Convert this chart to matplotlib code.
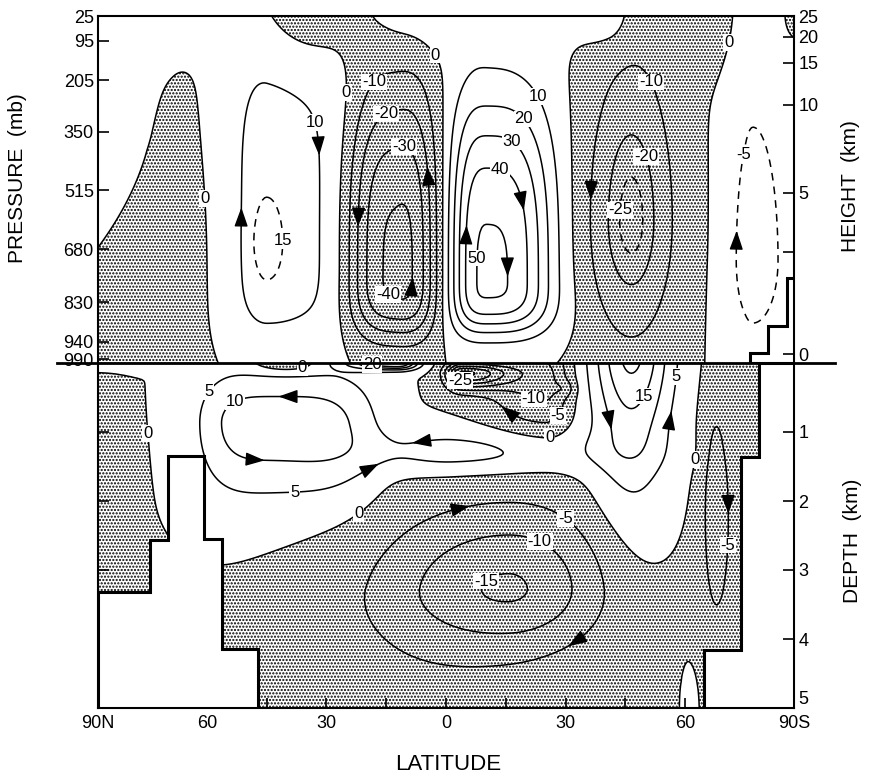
import numpy as np
import matplotlib.pyplot as plt
from matplotlib.lines import Line2D

plt.rcParams['font.family'] = ['Liberation Sans', 'DejaVu Sans']
plt.rcParams['hatch.color'] = 'black'
plt.rcParams['hatch.linewidth'] = 1.05

# ---- axes ticks ----
lat_ticks = [90, 75, 60, 45, 30, 15, 0, -15, -30, -45, -60, -75, -90]
lat_labels = ['90N', '', '60', '', '30', '', '0', '', '30', '', '60', '', '90S']
p_ticks = [25, 95, 205, 350, 515, 680, 830, 940, 990]
height_ticks_p = [25, 84, 157, 275, 522, 688, 975]
height_labels = ['25', '20', '15', '10', '5', '', '0']
depth_ticks = [1, 2, 3, 4, 5]

# ---- atmosphere cells (lat, pressure mb, strength, half widths) ----
atm_lat = [12.3, -10.6, 45.0, -46.5, -77.4, 68.0, 90.0, -90.0, 34.0, 0.0, 45.0, -41.0, 70.0, -64.0]
atm_p = [750, 770, 660, 600, 711, 750, 350, 25, 25, 25, 660, 25, 25, 25]
atm_amp = [-45, 51.5, 14, -27, 7, -5, 6, -3, -9, 7, 5, 8, 3, -5]
atm_wn = [12.2, 8.9, 11.0, 10.6, 8.0, 18.0, 5.0, 3.0, 13.0, 22.0, 3.5, 7.0, 15.0, 10.0]
atm_ws = [9.3, 15.5, 26.0, 10.3, 13.3, 9.0, 18.0, 3.0, 14.0, 25.0, 3.5, 5.0, 12.0, 7.0]
atm_wup = [520, 500, 630, 440, 645, 550, 500, 60, 60, 60, 100, 60, 60, 60]
atm_wdn = [182, 147, 300, 328, 305, 400, 250, 60, 150, 100, 90, 90, 120, 150]
atm_nx = [3, 3, 2, 2, 2, 2, 2, 2, 2, 2, 2, 2, 2, 2]
atm_ny = [3, 3, 4, 2, 2, 2, 2, 2, 2, 2, 2, 2, 2, 2]

# ---- ocean cells (lat, depth km, strength, half widths) ----
oc_lat = [42, -2, 12, -4, -25, -30, -46.5, -67.5, -72, -16, 10, 88, 40, -61, 80]
oc_d = [0.87, 1.3, 0, 0.15, 0.35, 0.37, 0, 2.13, 2.5, 3.25, 4.8, 2.0, 0, 5, 0]
oc_amp = [13, 7.5, 26, -30, -11, -4, 21, -7, -3, -15.0, -3, -3, -7, 3, 1]
oc_wn = [20, 22, 12, 4, 14, 2.5, 9.7, 3, 8, 32, 40, 10, 9, 1.5, 15]
oc_ws = [24, 36, 5, 12, 6, 2.5, 9.7, 3, 8, 24, 40, 6, 9, 2, 15]
oc_wup = [0.75, 0.35, 1, 0.15, 1, 0.12, 1, 1.45, 3, 1.17, 1.4, 1.0, 1, 0.5, 1]
oc_wdn = [1.05, 0.3, 0.1, 0.22, 0.65, 0.12, 1.52, 1.45, 3, 0.9, 2, 1.5, 0.14, 1, 0.1]
oc_nx = [4, 2, 2, 2, 2, 2, 2, 2, 2, 2, 2, 2, 2, 2, 2]
oc_ny = [2, 2, 2, 2, 2, 2, 1.3, 2, 2, 2, 2, 2, 2, 2, 2]

# ---- topography ----
atm_land_lat = [-76.5, -76.5, -82, -82, -88, -88, -90, -90]
atm_land_p = [1000, 972, 972, 897, 897, 762, 762, 1000]
oc_landN_lat = [90, 90, 74.2, 74.2, 69.7, 69.7, 60.7, 60.7, 56.2, 56.2, 47.1, 47.1]
oc_landN_d = [5, 3.32, 3.32, 2.57, 2.57, 1.35, 1.35, 2.55, 2.55, 4.14, 4.14, 5]
oc_landS_lat = [-64.8, -64.8, -74.1, -74.1, -79.3, -79.3, -90, -90]
oc_landS_d = [5, 4.16, 4.16, 1.36, 1.36, 0, 0, 5]

DASH = (0, (5, 4))


def cell_field(lat, lev, c_lat, c_lev, amp, wn, ws, wup, wdn, nx, ny):
    z = np.zeros_like(lat)
    for i in range(len(amp)):
        u = (lat - c_lat[i]) / np.where(lat > c_lat[i], wn[i], ws[i])
        v = (lev - c_lev[i]) / np.where(lev < c_lev[i], wup[i], wdn[i])
        z += amp[i] * np.exp(-(np.abs(u) ** nx[i] + np.abs(v) ** ny[i]))
    return z


def fwd(x):
    return np.interp(x, [-90, -75, 75, 90], [-87.3, -75, 75, 87.3])


def inv(x):
    return np.interp(x, [-87.3, -75, 75, 87.3], [-90, -75, 75, 90])


def draw_levels(ax, X, Y, Z, levels, ls='solid'):
    out = {}
    for lev in levels:
        if Z.min() < lev < Z.max():
            out[lev] = ax.contour(X, Y, Z, levels=[lev], colors='k',
                                  linewidths=1.1, linestyles=[ls])
    return out


def nearest_on(ax, sets, level, x, y):
    if level not in sets:
        return None
    segs = sets[level].get_paths()[0].to_polygons(closed_only=False)
    target = ax.transData.transform((x, y))
    best = None
    for s in segs:
        if len(s) < 3:
            continue
        d = ax.transData.transform(s)
        dist = np.hypot(*(d - target).T)
        k = np.argmin(dist)
        if best is None or dist[k] < best[0]:
            best = (dist[k], d, k)
    return best


def flow_arrow(ax, sets, level, x, y, direction):
    best = nearest_on(ax, sets, level, x, y)
    if best is None:
        return
    dx, dy = {'up': (0, 1), 'down': (0, -1), 'left': (-1, 0), 'right': (1, 0)}[direction]
    _, pts, k = best
    k0, k1 = max(k - 2, 0), min(k + 2, len(pts) - 1)
    t = pts[k1] - pts[k0]
    t = t / np.hypot(*t)
    if t[0] * dx + t[1] * dy < 0:
        t = -t
    c = pts[k]
    tip = ax.transData.inverted().transform(c + 6 * t)
    tail = ax.transData.inverted().transform(c - 6 * t)
    ax.annotate('', xy=tip, xytext=tail,
                arrowprops=dict(arrowstyle='-|>,head_length=0.9,head_width=0.32',
                                color='k', lw=1, shrinkA=0, shrinkB=0,
                                mutation_scale=13), zorder=6)


def put_labels(ax, sets, items, text=None):
    for lev, x, y in items:
        best = nearest_on(ax, sets, lev, x, y)
        if best is None:
            continue
        _, pts, k = best
        px, py = ax.transData.inverted().transform(pts[k])
        ax.text(px, py, text if text else f'{lev:.0f}', fontsize=12, ha='center', va='center',
                zorder=7, bbox=dict(facecolor='white', edgecolor='none', pad=0.6))


fig = plt.figure(figsize=(8.69, 7.75), dpi=100)
L, W = 98 / 869, (794 - 98) / 869
ax_a = fig.add_axes([L, 1 - 363 / 775, W, (363 - 16) / 775])
ax_o = fig.add_axes([L, 1 - 708 / 775, W, (708 - 363) / 775])
for ax in (ax_a, ax_o):
    ax.set_xscale('function', functions=(fwd, inv))
    ax.set_xlim(90, -90)
    for s in ax.spines.values():
        s.set_linewidth(1.5)
ax_a.set_ylim(1000, 25)
ax_o.set_ylim(5, 0)

# ---- atmosphere ----
la = np.linspace(-90, 90, 361)
pa = np.linspace(25, 1000, 196)
LA, PA = np.meshgrid(la, pa)
Za = cell_field(LA, PA, atm_lat, atm_p, atm_amp, atm_wn, atm_ws, atm_wup, atm_wdn, atm_nx, atm_ny)
ax_a.contourf(LA, PA, Za, levels=[Za.min() - 1, 0], colors='none', hatches=['.....'])
ca = draw_levels(ax_a, LA, PA, Za, [-40, -30, -20, -10, 0, 10, 20, 30, 40, 50])
ca15 = draw_levels(ax_a, LA, PA, np.ma.masked_where(LA < 25, Za), [15], DASH)
ca25 = draw_levels(ax_a, LA, PA, np.ma.masked_where(LA > -30, Za), [-25], DASH)
ca5 = draw_levels(ax_a, LA, PA, np.ma.masked_where(LA > -64, Za), [5], DASH)

flow_arrow(ax_a, ca, 10, 31.4, 402, 'down')
flow_arrow(ax_a, ca, 10, 52.8, 579, 'up')
flow_arrow(ax_a, ca, -20, 21.1, 598, 'down')
flow_arrow(ax_a, ca, -20, 3.5, 466, 'up')
flow_arrow(ax_a, ca, -40, 10.0, 775, 'up')
flow_arrow(ax_a, ca, 40, -22.1, 551, 'down')
flow_arrow(ax_a, ca, 40, -4.0, 627, 'up')
flow_arrow(ax_a, ca, 50, -12.8, 739, 'down')
flow_arrow(ax_a, ca, -10, -36.7, 523, 'down')
flow_arrow(ax_a, ca5, 5, -70.6, 646, 'up')

put_labels(ax_a, ca, [(0, 62.8, 444), (10, 36.2, 337), (0, 27.4, 261), (-10, 21.1, 185),
                      (-20, 16.8, 270), (-30, 9.3, 354), (-40, 16.1, 823), (0, 1.8, 129),
                      (10, -30.2, 205), (20, -22.6, 284), (30, -18.3, 354), (40, -14.1, 424),
                      (50, -8.8, 705), (-10, -54.3, 194), (-20, -50.5, 421), (0, -70.4, 98)])
put_labels(ax_a, ca15, [(15, 40.7, 655)])
put_labels(ax_a, ca25, [(-25, -45.5, 570)])
put_labels(ax_a, ca5, [(5, -74.7, 416)], text='-5')

ax_a.fill(atm_land_lat, atm_land_p, facecolor='white', edgecolor='k', lw=2.2, zorder=5)

# ---- ocean ----
lo = np.linspace(-90, 90, 361)
do = np.linspace(0, 5, 251)
LO, DO = np.meshgrid(lo, do)
Zo = cell_field(LO, DO, oc_lat, oc_d, oc_amp, oc_wn, oc_ws, oc_wup, oc_wdn, oc_nx, oc_ny)
ax_o.contourf(LO, DO, Zo, levels=[Zo.min() - 1, 0], colors='none', hatches=['.....'])
co = draw_levels(ax_o, LO, DO, Zo, [-30, -25, -20, -15, -10, -5, 0, 5, 10, 15, 20])

flow_arrow(ax_o, co, 10, 40.7, 0.57, 'left')
flow_arrow(ax_o, co, 10, 47.0, 1.30, 'right')
flow_arrow(ax_o, co, 5, 8.0, 0.80, 'left')
flow_arrow(ax_o, co, 5, 17.3, 1.60, 'right')
flow_arrow(ax_o, co, -5, -16.6, 0.58, 'left')
flow_arrow(ax_o, co, 10, -43.5, 0.86, 'down')
flow_arrow(ax_o, co, 5, -58.0, 0.80, 'up')
flow_arrow(ax_o, co, -5, -69.0, 2.10, 'down')
flow_arrow(ax_o, co, -5, -5.3, 2.28, 'right')
flow_arrow(ax_o, co, -5, -26.6, 3.58, 'left')

put_labels(ax_o, co, [(0, 82.3, 1.33), (5, 63.3, 0.25), (10, 55.0, 0.39), (0, 36.4, 0.14),
                      (20, 22.4, 0.35), (5, 37.7, 1.96), (0, 22.4, 2.30), (-25, -2.8, 0.35),
                      (-10, -22.9, 0.36), (-5, -30.9, 0.87), (0, -26.4, 1.14), (15, -50.5, 0.49),
                      (5, -57.8, 0.20), (0, -60.5, 1.58), (-5, -68.6, 2.64), (-5, -30.9, 2.17),
                      (-10, -23.9, 2.57), (-15, -11.6, 3.25)])

ax_o.fill(oc_landN_lat, oc_landN_d, facecolor='white', edgecolor='k', lw=2.2, zorder=5)
ax_o.fill(oc_landS_lat, oc_landS_d, facecolor='white', edgecolor='k', lw=2.2, zorder=5)

# ---- ticks and labels ----
ax_a.set_xticks([])
ax_a.spines['bottom'].set_visible(False)
ax_a.set_yticks(p_ticks)
ax_a.set_yticklabels([str(p) for p in p_ticks])
ax_a.tick_params(axis='y', direction='in', length=8, width=1.2, labelsize=13, pad=3)
ax_ar = ax_a.twinx()
ax_ar.set_ylim(1000, 25)
ax_ar.set_yticks(height_ticks_p)
ax_ar.set_yticklabels(height_labels)
ax_ar.tick_params(axis='y', direction='in', length=8, width=1.2, labelsize=13, pad=3)
for s in ax_ar.spines.values():
    s.set_visible(False)

ax_o.spines['top'].set_visible(False)
ax_o.set_xticks(lat_ticks)
ax_o.set_xticklabels(lat_labels)
ax_o.xaxis.set_minor_locator(plt.NullLocator())
ax_o.tick_params(axis='x', direction='in', length=7, width=1.2, labelsize=13, pad=5)
ax_o.set_yticks([1, 2, 3, 4])
ax_o.set_yticklabels([])
ax_o.tick_params(axis='y', direction='in', length=8, width=1.2)
ax_or = ax_o.twinx()
ax_or.set_ylim(5, 0)
ax_or.set_yticks(depth_ticks)
ax_or.set_yticklabels([str(d) for d in depth_ticks])
ax_or.tick_params(axis='y', direction='in', length=8, width=1.2, labelsize=13, pad=3)
ax_or.get_yticklabels()[-1].set_verticalalignment('bottom')
for s in ax_or.spines.values():
    s.set_visible(False)

fig.add_artist(Line2D([57 / 869, 835 / 869], [1 - 363 / 775] * 2, color='k', lw=2))
fig.text(18 / 869, 1 - 178 / 775, 'PRESSURE  (mb)', rotation=90, ha='center', va='center', fontsize=15)
fig.text(850 / 869, 1 - 186 / 775, 'HEIGHT  (km)', rotation=90, ha='center', va='center', fontsize=15)
fig.text(853 / 869, 1 - 541 / 775, 'DEPTH  (km)', rotation=90, ha='center', va='center', fontsize=15)
fig.text(448 / 869, 1 - 764 / 775, 'LATITUDE', ha='center', va='center', fontsize=16)

fig.savefig('out.png', dpi=100)
